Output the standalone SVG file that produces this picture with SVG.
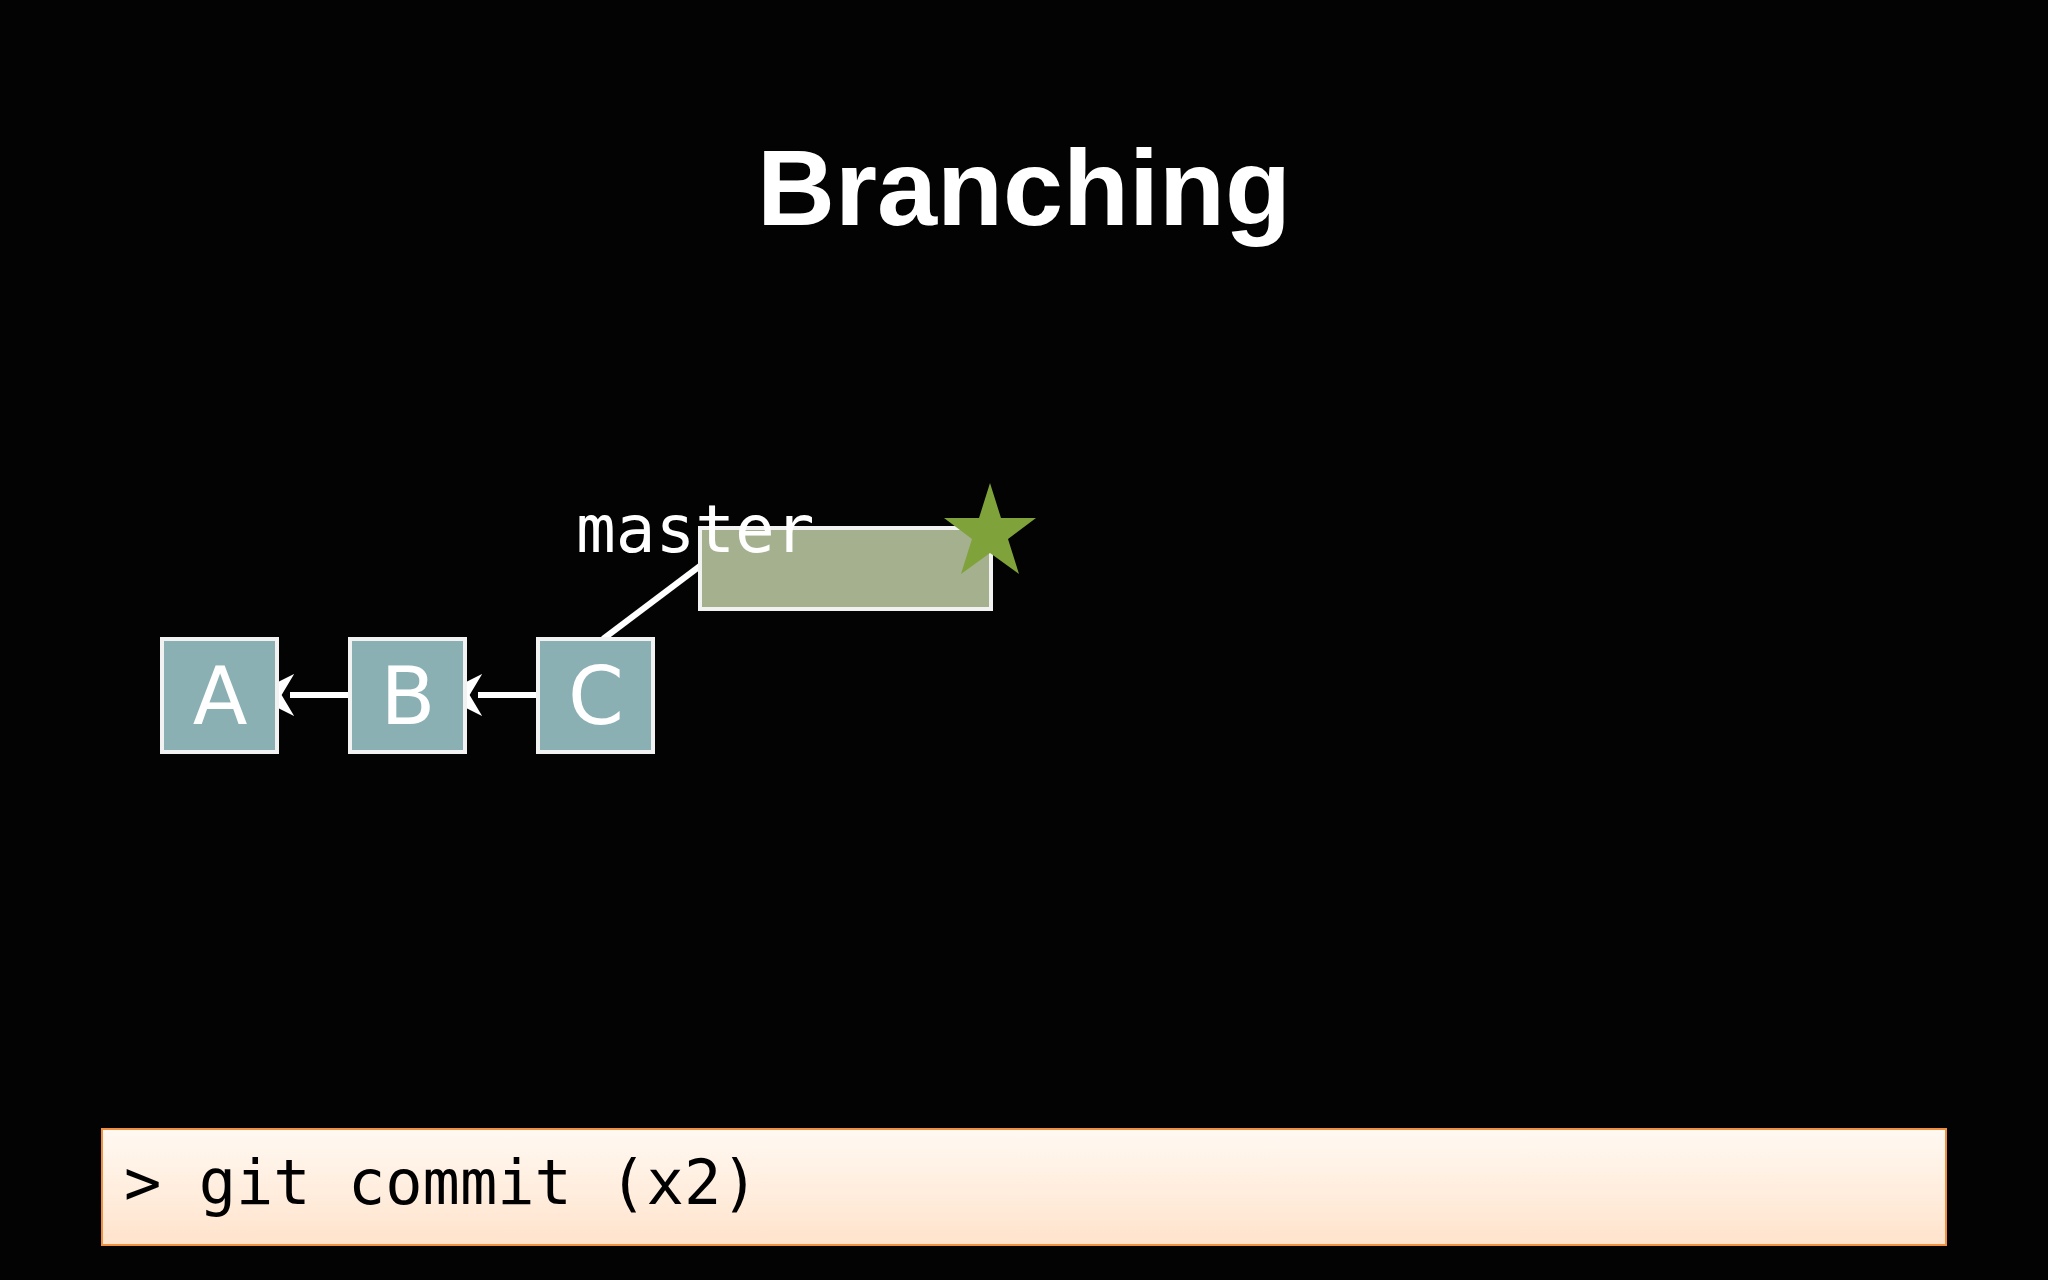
<svg xmlns="http://www.w3.org/2000/svg" width="2048" height="1280" viewBox="0 0 2048 1280">
<style>
.n{fill:#8ab0b4;stroke:#f2f2f2;stroke-width:4}
.nt{font-family:"DejaVu Sans",sans-serif;font-size:80px;fill:#fff;text-anchor:middle}
.c{stroke:#fff;stroke-width:6;fill:none}
</style>
<defs><marker id="ah" viewBox="0 0 12 12" refX="2" refY="6" markerWidth="12" markerHeight="12" markerUnits="userSpaceOnUse" orient="auto"><path d="M12,6 L0,0 L4,6 L0,12 Z" fill="#fff"/></marker>
<marker id="a" viewBox="0 0 10 10" refX="1" refY="5" markerWidth="7" markerHeight="7" orient="auto"><path d="M10,5 L0,0 L3,5 L0,10 Z" fill="#fff"/></marker>
<linearGradient id="bg" x1="0" y1="0" x2="0" y2="1"><stop offset="0" stop-color="#fff9f2"/><stop offset="1" stop-color="#ffe3cc"/></linearGradient></defs>
<rect width="2048" height="1280" fill="#030303"/>
<text x="1024" y="225" font-family="Liberation Sans,sans-serif" font-weight="bold" font-size="108" fill="#fff" text-anchor="middle">Branching</text>
<g id="connectors">
<line class="c" x1="350" y1="695" x2="290" y2="695" marker-end="url(#a)"/>
<line class="c" x1="538" y1="695" x2="478" y2="695" marker-end="url(#a)"/>
<line class="c" x1="603" y1="639" x2="700" y2="566"/>
</g>
<g id="A"><rect class="n" x="162" y="639" width="115" height="113"/><text class="nt" x="220" y="724">A</text></g>
<g id="B"><rect class="n" x="350" y="639" width="115" height="113"/><text class="nt" x="408" y="724">B</text></g>
<g id="C"><rect class="n" x="538" y="639" width="115" height="113"/><text class="nt" x="596" y="724">C</text></g>
<g id="master"><rect x="700" y="528" width="291" height="81" fill="#a4b08e" stroke="#f2f2f2" stroke-width="4"/>
<text x="576" y="552" font-family="DejaVu Sans Mono,monospace" font-size="66" fill="#fff">master</text>
<polygon points="990,483 1001,518 1036,518 1008,539 1019,574 990,553 961,574 972,539 944,518 979,518" fill="#7fa23a"/></g>
<g id="cmd"><rect x="102" y="1129" width="1844" height="116" fill="url(#bg)" stroke="#f09040" stroke-width="2"/>
<text x="124" y="1204" font-family="DejaVu Sans Mono,monospace" font-size="62" fill="#000">&gt; git commit (x2)</text></g>
</svg>
